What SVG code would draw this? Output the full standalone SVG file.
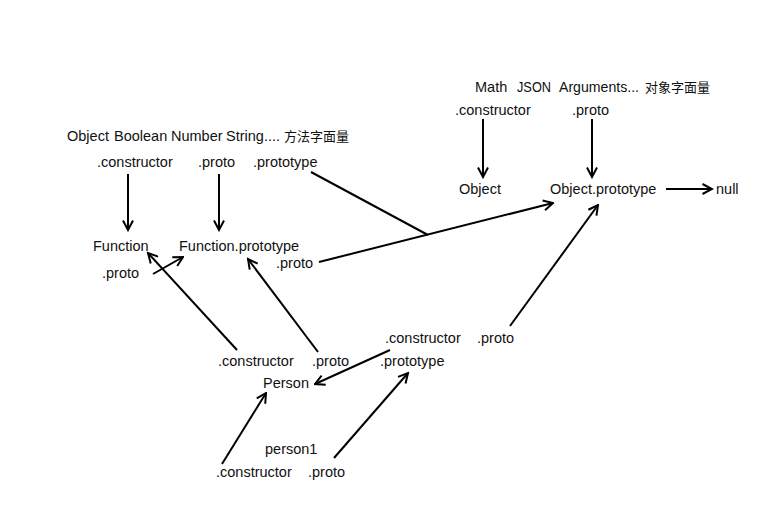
<svg xmlns="http://www.w3.org/2000/svg" width="770" height="512" viewBox="0 0 770 512">
<style>
text{font-family:"Liberation Sans","Noto Sans CJK SC",sans-serif;font-size:14.5px;fill:#111}
.cjk{font-family:"Noto Sans CJK SC",sans-serif;font-size:13px}
.ln{stroke:#000;stroke-width:2;fill:none}
.ar{marker-end:url(#arr)}
</style>
<defs>
<marker id="arr" viewBox="0 0 12 12" refX="10.5" refY="6" markerWidth="12" markerHeight="12" markerUnits="userSpaceOnUse" orient="auto">
<path d="M1,1 L10.5,6 L1,11" fill="none" stroke="#000" stroke-width="2"/>
</marker>
</defs>
<rect width="770" height="512" fill="#fff"/>
<g id="connectors">
<line class="ln ar" x1="483" y1="119" x2="483" y2="177"/>
<line class="ln ar" x1="592" y1="119" x2="592" y2="177"/>
<line class="ln ar" x1="666" y1="189" x2="712" y2="189"/>
<line class="ln ar" x1="128" y1="174" x2="128" y2="230"/>
<line class="ln ar" x1="219" y1="174" x2="219" y2="230"/>
<line class="ln ar" x1="153" y1="274" x2="183" y2="257"/>
<line class="ln" x1="311" y1="172" x2="428" y2="235"/>
<line class="ln ar" x1="319" y1="262" x2="553" y2="203"/>
<line class="ln ar" x1="510" y1="326" x2="598" y2="205"/>
<line class="ln ar" x1="237" y1="350" x2="148" y2="253"/>
<line class="ln ar" x1="318" y1="352" x2="248" y2="259"/>
<line class="ln ar" x1="390" y1="350" x2="315" y2="384"/>
<line class="ln ar" x1="222" y1="464" x2="266" y2="393"/>
<line class="ln ar" x1="334" y1="458" x2="408" y2="373"/>
</g>
<g id="object-literals"><text y="92"><tspan x="475">Math</tspan><tspan x="517" textLength="34" lengthAdjust="spacingAndGlyphs">JSON</tspan><tspan x="559" textLength="80" lengthAdjust="spacingAndGlyphs">Arguments...</tspan><tspan x="645" class="cjk">对象字面量</tspan></text></g>
<g id="obj-lit-constructor"><text x="455" y="115">.constructor</text></g>
<g id="obj-lit-proto"><text x="572" y="115">.proto</text></g>
<g id="Object"><text x="459" y="194">Object</text></g>
<g id="Object-prototype"><text x="550" y="194">Object.prototype</text></g>
<g id="null"><text x="716" y="194">null</text></g>
<g id="function-literals"><text y="141"><tspan x="67">Object</tspan><tspan x="114">Boolean</tspan><tspan x="171">Number</tspan><tspan x="226">String....</tspan><tspan x="284" class="cjk">方法字面量</tspan></text></g>
<g id="fn-lit-constructor"><text x="97" y="167">.constructor</text></g>
<g id="fn-lit-proto"><text x="198" y="167">.proto</text></g>
<g id="fn-lit-prototype"><text x="253" y="167">.prototype</text></g>
<g id="Function"><text x="93" y="251">Function</text></g>
<g id="Function-prototype"><text x="179" y="251">Function.prototype</text></g>
<g id="function-proto"><text x="102" y="278">.proto</text></g>
<g id="fnproto-proto"><text x="276" y="268">.proto</text></g>
<g id="person-constructor"><text x="218" y="366">.constructor</text></g>
<g id="person-proto"><text x="312" y="366">.proto</text></g>
<g id="Person"><text x="263" y="388">Person</text></g>
<g id="Person-prototype"><text x="380" y="366">.prototype</text></g>
<g id="prototype-constructor"><text x="385" y="343">.constructor</text></g>
<g id="prototype-proto"><text x="477" y="343">.proto</text></g>
<g id="person1"><text x="265" y="454">person1</text></g>
<g id="person1-constructor"><text x="216" y="477">.constructor</text></g>
<g id="person1-proto"><text x="308" y="477">.proto</text></g>
</svg>
